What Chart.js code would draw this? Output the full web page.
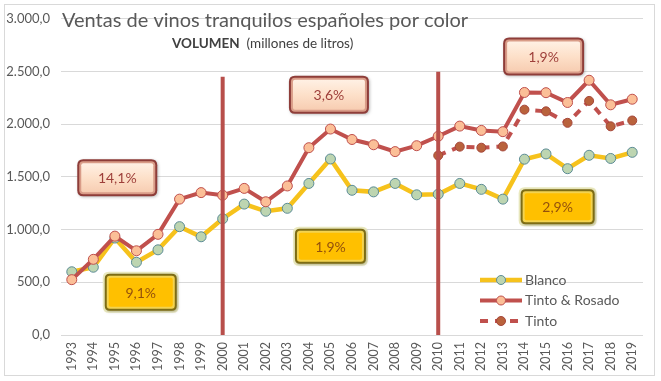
<!DOCTYPE html>
<html><head><meta charset="utf-8">
<script src="https://cdn.jsdelivr.net/npm/chart.js@4/dist/chart.umd.min.js"></script>
<style>html,body{margin:0;padding:0;background:#fff}canvas{display:block}</style>
</head><body>
<canvas id="c" width="661" height="381"></canvas>
<script>
const years = ['1993','1994','1995','1996','1997','1998','1999','2000','2001','2002','2003','2004','2005','2006','2007','2008','2009','2010','2011','2012','2013','2014','2015','2016','2017','2018','2019'];
const blanco = [600,643,920,690,808,1028,932,1103,1242,1174,1202,1438,1670,1373,1358,1438,1330,1336,1438,1382,1289,1668,1718,1578,1705,1675,1733];
const tintoRosado = [525,718,938,799,955,1289,1351,1326,1391,1264,1414,1777,1954,1855,1805,1740,1796,1886,1982,1941,1929,2301,2299,2206,2417,2184,2237];
const tinto = [null,null,null,null,null,null,null,null,null,null,null,null,null,null,null,null,null,1703,1787,1777,1789,2138,2122,2013,2221,1980,2035];
const yTickValues = [0,500,1000,1500,2000,2500,3000];
const seriesNames = ['Blanco','Tinto & Rosado','Tinto'];
const periodYears = ['2000','2010'];
const growthTexts = ['14,1%','3,6%','1,9%','9,1%','1,9%','2,9%'];
const titleText = 'Ventas de vinos tranquilos españoles por color';
const subtitleBold = 'VOLUMEN';
const subtitleRest = '  (millones de litros)';

const FONT = 'Lato, "Liberation Sans", sans-serif';
const fmt = v => {
  const s = v.toFixed(1).split('.');
  return s[0].replace(/\B(?=(\d{3})+(?!\d))/g, '.') + ',' + s[1];
};

// annotation placement (index along categories, value on y axis)
const boxPlacement = [
  {x: 2.11, y: 1491, w: 80, h: 37, kind: 'pink'},
  {x: 11.93, y: 2279, w: 80, h: 38, kind: 'pink'},
  {x: 21.89, y: 2642, w: 81, h: 38, kind: 'pink'},
  {x: 3.20, y: 405, w: 72, h: 37, kind: 'yellow'},
  {x: 12.0, y: 843, w: 71, h: 35, kind: 'yellow'},
  {x: 22.54, y: 1216, w: 74, h: 35, kind: 'yellow'}
];
const periodTops = [2451, 2498];

function rr(ctx, x, y, w, h, r) {
  ctx.beginPath();
  ctx.moveTo(x + r, y);
  ctx.lineTo(x + w - r, y);
  ctx.quadraticCurveTo(x + w, y, x + w, y + r);
  ctx.lineTo(x + w, y + h - r);
  ctx.quadraticCurveTo(x + w, y + h, x + w - r, y + h);
  ctx.lineTo(x + r, y + h);
  ctx.quadraticCurveTo(x, y + h, x, y + h - r);
  ctx.lineTo(x, y + r);
  ctx.quadraticCurveTo(x, y, x + r, y);
  ctx.closePath();
}

const decor = {
  id: 'decor',
  beforeDraw(chart) {
    const ctx = chart.ctx;
    ctx.save();
    ctx.fillStyle = '#fff';
    ctx.fillRect(0, 0, chart.width, chart.height);
    ctx.strokeStyle = '#d9d9d9';
    ctx.lineWidth = 1;
    ctx.strokeRect(4.5, 4.5, 650, 371);
    ctx.restore();
  },
  afterDatasetsDraw(chart) {
    const ctx = chart.ctx;
    const xs = chart.scales.x, ys = chart.scales.y;
    ctx.save();
    // period separators
    ctx.strokeStyle = '#b84f4b';
    ctx.lineWidth = 4;
    periodYears.forEach((yr, i) => {
      const px = xs.getPixelForValue(years.indexOf(yr));
      ctx.beginPath();
      ctx.moveTo(px, ys.getPixelForValue(0));
      ctx.lineTo(px, ys.getPixelForValue(periodTops[i]));
      ctx.stroke();
    });
    // growth boxes
    growthTexts.forEach((t, i) => {
      const b = boxPlacement[i];
      const cx = xs.getPixelForValue(b.x), cy = ys.getPixelForValue(b.y);
      const x = cx - b.w / 2, y = cy - b.h / 2;
      if (b.kind === 'pink') {
        ctx.shadowColor = 'rgba(0,0,0,0.25)'; ctx.shadowBlur = 3; ctx.shadowOffsetX = 1; ctx.shadowOffsetY = 1;
        rr(ctx, x, y, b.w, b.h, 6);
        ctx.fillStyle = '#8e3d39'; ctx.fill();
        ctx.shadowColor = 'transparent';
        rr(ctx, x + 2, y + 2, b.w - 4, b.h - 4, 4);
        ctx.fillStyle = '#d99c88'; ctx.fill();
        rr(ctx, x + 4, y + 4, b.w - 8, b.h - 8, 2);
        const g = ctx.createLinearGradient(0, y + 4, 0, y + b.h - 4);
        g.addColorStop(0, '#fff0e4'); g.addColorStop(0.5, '#fde0c9'); g.addColorStop(1, '#f7cdb2');
        ctx.fillStyle = g; ctx.fill();
        ctx.fillStyle = '#9e3f3a';
      } else {
        rr(ctx, x - 2, y - 2, b.w + 4, b.h + 4, 6);
        ctx.fillStyle = '#ecebc0'; ctx.fill();
        ctx.shadowColor = 'rgba(0,0,0,0.25)'; ctx.shadowBlur = 3; ctx.shadowOffsetX = 1; ctx.shadowOffsetY = 1;
        rr(ctx, x, y, b.w, b.h, 5);
        ctx.fillStyle = '#7d6c14'; ctx.fill();
        ctx.shadowColor = 'transparent';
        rr(ctx, x + 2, y + 2, b.w - 4, b.h - 4, 3);
        ctx.fillStyle = '#f3d350'; ctx.fill();
        rr(ctx, x + 4, y + 4, b.w - 8, b.h - 8, 2);
        ctx.fillStyle = '#ffc000'; ctx.fill();
        ctx.fillStyle = '#94510c';
      }
      ctx.font = '14px ' + FONT;
      ctx.textAlign = 'center'; ctx.textBaseline = 'middle';
      ctx.fillText(t, cx, cy + 1);
    });
    // title
    ctx.fillStyle = '#595959';
    ctx.textAlign = 'left'; ctx.textBaseline = 'alphabetic';
    ctx.font = '20px ' + FONT;
    ctx.fillText(titleText, 62, 27);
    ctx.font = 'bold 13.5px ' + FONT;
    const bw = ctx.measureText(subtitleBold).width;
    ctx.fillStyle = '#404040';
    ctx.fillText(subtitleBold, 172, 48);
    ctx.font = '13.5px ' + FONT;
    ctx.fillText(subtitleRest, 172 + bw, 48);
    // legend
    chart.data.datasets.forEach((ds, i) => {
      const ly = 280 + i * 20.5;
      ctx.strokeStyle = ds.borderColor;
      ctx.lineWidth = ds.borderWidth;
      ctx.setLineDash(ds.borderDash || []);
      ctx.beginPath(); ctx.moveTo(480, ly); ctx.lineTo(522, ly); ctx.stroke();
      ctx.setLineDash([]);
      ctx.beginPath(); ctx.arc(501, ly, 4.5, 0, Math.PI * 2);
      ctx.fillStyle = ds.pointBackgroundColor; ctx.fill();
      ctx.lineWidth = 1; ctx.strokeStyle = ds.pointBorderColor; ctx.stroke();
      ctx.fillStyle = '#595959';
      ctx.font = '14px ' + FONT;
      ctx.textBaseline = 'middle';
      ctx.fillText(seriesNames[i], 525, ly);
    });
    ctx.restore();
  }
};

new Chart(document.getElementById('c'), {
  type: 'line',
  data: {
    labels: years,
    datasets: [
      {label: seriesNames[0], data: blanco, borderColor: '#f6c21c', borderWidth: 4.5,
       pointBackgroundColor: '#bdd5b1', pointBorderColor: '#5c8c96', pointBorderWidth: 1, pointRadius: 5, order: 3},
      {label: seriesNames[1], data: tintoRosado, borderColor: '#c0504d', borderWidth: 4,
       pointBackgroundColor: '#fbbf97', pointBorderColor: '#c0504d', pointBorderWidth: 1, pointRadius: 5, order: 2},
      {label: seriesNames[2], data: tinto, borderColor: '#c0504d', borderWidth: 4, borderDash: [8, 7],
       pointBackgroundColor: '#b9623c', pointBorderColor: '#a6463a', pointBorderWidth: 1, pointRadius: 4.5, order: 1, spanGaps: false}
    ]
  },
  options: {
    responsive: false,
    animation: false,
    layout: {padding: {top: 13, right: 18, left: 0, bottom: 0}},
    plugins: {legend: {display: false}, tooltip: {enabled: false}, title: {display: false}},
    scales: {
      x: {
        offset: true,
        grid: {display: false, drawTicks: false},
        border: {display: false},
        ticks: {color: '#595959', font: {family: FONT, size: 12.5}, minRotation: 90, maxRotation: 90, padding: 7, autoSkip: false},
        afterFit(s) { s.height = 46; }
      },
      y: {
        min: 0, max: 3000,
        afterBuildTicks(s) { s.ticks = yTickValues.map(v => ({value: v})); },
        grid: {color: '#d9d9d9', lineWidth: 1, drawTicks: false},
        border: {display: false},
        ticks: {color: '#595959', font: {family: FONT, size: 13}, padding: 11, callback: v => fmt(v)},
        afterFit(s) { s.width = 61; }
      }
    }
  },
  plugins: [decor]
});
</script>
</body></html>
